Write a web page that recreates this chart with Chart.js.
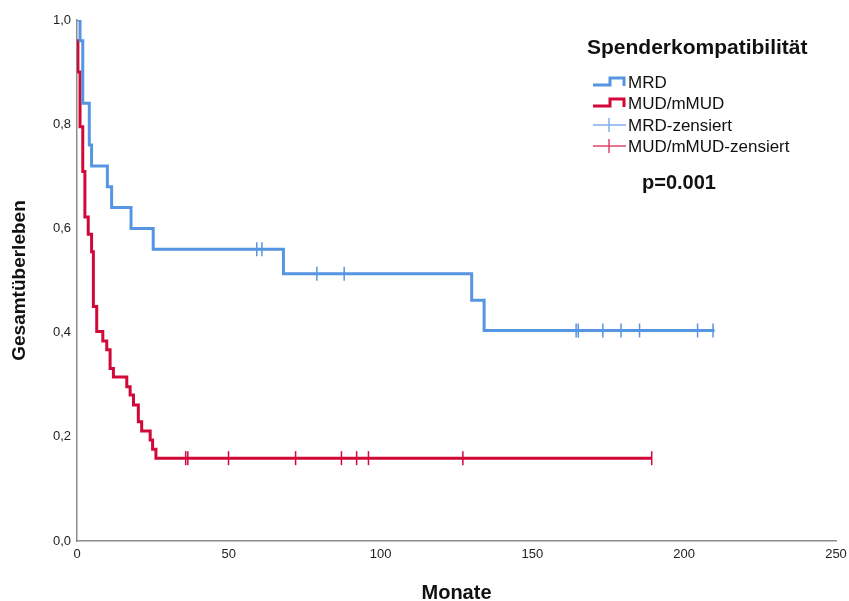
<!DOCTYPE html>
<html>
<head>
<meta charset="utf-8">
<script src="https://cdn.jsdelivr.net/npm/chart.js@4"></script>
<style>
  body { margin: 0; background: #fff; }
  #wrap { width: 849px; height: 601px; }
</style>
</head>
<body>
<div id="wrap"><canvas id="kmChart" width="849" height="601"></canvas></div>
<script>
// Kaplan-Meier, Gesamtüberleben nach Spenderkompatibilität
const xTicks = [0, 50, 100, 150, 200, 250];
const yTicks = [0, 0.2, 0.4, 0.6, 0.8, 1.0];

// MRD: Zeitpunkte (Monate) und Überlebenswahrscheinlichkeit nach jedem Ereignis
const mrdTimes = [0, 1, 1.9, 4.05, 4.8, 10, 11.4, 17.8, 25.1, 68, 130, 134.1, 210];
const mrdSurv  = [1.0, 0.96, 0.84, 0.76, 0.72, 0.68, 0.64, 0.60, 0.56, 0.513, 0.462, 0.404, 0.404];
const mrdCensored = [59.2, 60.9, 79, 88, 164.4, 165.1, 173.2, 179.2, 185.3, 204.4, 209.5];

// MUD/mMUD
const mudTimes = [0, 0.3, 1.0, 1.9, 2.6, 3.7, 4.8, 5.4, 6.5, 8.5, 9.8, 10.9, 12, 16.4, 17.5, 18.6, 20.2, 21.3, 24.1, 24.9, 26, 189.3];
const mudSurv  = [0.96, 0.90, 0.795, 0.709, 0.622, 0.589, 0.555, 0.45, 0.402, 0.384, 0.367, 0.331, 0.315, 0.296, 0.28, 0.261, 0.229, 0.211, 0.194, 0.176, 0.159, 0.159];
const mudCensored = [35.8, 36.5, 49.9, 72, 87.1, 92.1, 96, 127.1, 189.3];

const blue = 'rgb(86, 149, 226)';
const red = 'rgb(210, 8, 56)';
const axisGrey = '#8c8c8c';
const narrow = '"Liberation Sans Narrow", "Liberation Sans", Arial, sans-serif';
const sans = '"Liberation Sans", Arial, sans-serif';

function survAt(times, surv, t) {
    let s = surv[0];
    for (let i = 0; i < times.length; i++) {
        if (times[i] <= t) s = surv[i];
    }
    return s;
}

const toPoints = (xs, ys) => xs.map((x, i) => ({ x: x, y: ys[i] }));
const censorPoints = (c, times, surv) => c.map(t => ({ x: t, y: survAt(times, surv, t) }));

// eigene Legende rechts oben, wie im SPSS-Diagramm
const legendPlugin = {
    id: 'kmLegend',
    afterDraw(chart) {
        const ctx = chart.ctx;
        ctx.save();
        ctx.fillStyle = '#111';
        ctx.textBaseline = 'middle';
        ctx.font = 'bold 21px ' + sans;
        ctx.fillText('Spenderkompatibilität', 587, 48);

        const rows = [
            { label: 'MRD', color: blue, step: true, y: 82 },
            { label: 'MUD/mMUD', color: red, step: true, y: 103 },
            { label: 'MRD-zensiert', color: 'rgba(86,149,226,0.75)', step: false, y: 125 },
            { label: 'MUD/mMUD-zensiert', color: 'rgba(210,8,56,0.75)', step: false, y: 146 }
        ];
        rows.forEach(r => {
            ctx.strokeStyle = r.color;
            if (r.step) {
                ctx.lineWidth = 3;
                ctx.beginPath();
                ctx.moveTo(593, r.y + 3);
                ctx.lineTo(610, r.y + 3);
                ctx.lineTo(610, r.y - 4);
                ctx.lineTo(624, r.y - 4);
                ctx.lineTo(624, r.y + 4);
                ctx.stroke();
            } else {
                ctx.lineWidth = 1.5;
                ctx.beginPath();
                ctx.moveTo(593, r.y);
                ctx.lineTo(626, r.y);
                ctx.moveTo(609, r.y - 7);
                ctx.lineTo(609, r.y + 7);
                ctx.stroke();
            }
            ctx.fillStyle = '#111';
            ctx.font = '17px ' + sans;
            ctx.fillText(r.label, 628, r.y + 1);
        });

        ctx.font = 'bold 20px ' + sans;
        ctx.fillText('p=0.001', 642, 183);
        ctx.restore();
    }
};

const ctx = document.getElementById('kmChart');

new Chart(ctx, {
    type: 'line',
    data: {
        datasets: [
            {
                label: 'MRD',
                data: toPoints(mrdTimes, mrdSurv),
                borderColor: blue,
                borderWidth: 3,
                stepped: 'before',
                pointRadius: 0,
                fill: false
            },
            {
                label: 'MUD/mMUD',
                data: toPoints(mudTimes, mudSurv),
                borderColor: red,
                borderWidth: 3,
                stepped: 'before',
                pointRadius: 0,
                fill: false
            },
            {
                label: 'MRD-zensiert',
                data: censorPoints(mrdCensored, mrdTimes, mrdSurv),
                showLine: false,
                pointStyle: 'line',
                rotation: 90,
                pointRadius: 7,
                borderColor: blue,
                pointBorderWidth: 1.5
            },
            {
                label: 'MUD/mMUD-zensiert',
                data: censorPoints(mudCensored, mudTimes, mudSurv),
                showLine: false,
                pointStyle: 'line',
                rotation: 90,
                pointRadius: 7,
                borderColor: red,
                pointBorderWidth: 1.5
            }
        ]
    },
    options: {
        responsive: false,
        animation: false,
        layout: { padding: { top: 20, right: 13, left: 4, bottom: 0 } },
        plugins: {
            legend: { display: false },
            tooltip: { enabled: false }
        },
        scales: {
            x: {
                type: 'linear',
                min: 0,
                max: 250,
                afterBuildTicks: s => { s.ticks = xTicks.map(v => ({ value: v })); },
                afterFit: s => { s.height = 60; },
                grid: { display: false },
                border: { display: true, color: axisGrey, width: 1.5 },
                ticks: {
                    color: '#222',
                    font: { family: narrow, size: 13 },
                    padding: -2,
                    maxRotation: 0
                },
                title: {
                    display: true,
                    text: 'Monate',
                    color: '#111',
                    font: { family: sans, size: 20, weight: 'bold' },
                    padding: { top: 8, bottom: -4 }
                }
            },
            y: {
                min: 0,
                max: 1,
                afterBuildTicks: s => { s.ticks = yTicks.map(v => ({ value: v })); },
                afterFit: s => { s.width = 73; },
                grid: { display: false },
                border: { display: true, color: axisGrey, width: 1.5 },
                ticks: {
                    color: '#222',
                    font: { family: narrow, size: 13 },
                    padding: -2,
                    callback: v => v.toFixed(1).replace('.', ',')
                },
                title: {
                    display: true,
                    text: 'Gesamtüberleben',
                    color: '#111',
                    font: { family: sans, size: 19, weight: 'bold' },
                    padding: { bottom: 2 }
                }
            }
        }
    },
    plugins: [legendPlugin]
});
</script>
</body>
</html>
